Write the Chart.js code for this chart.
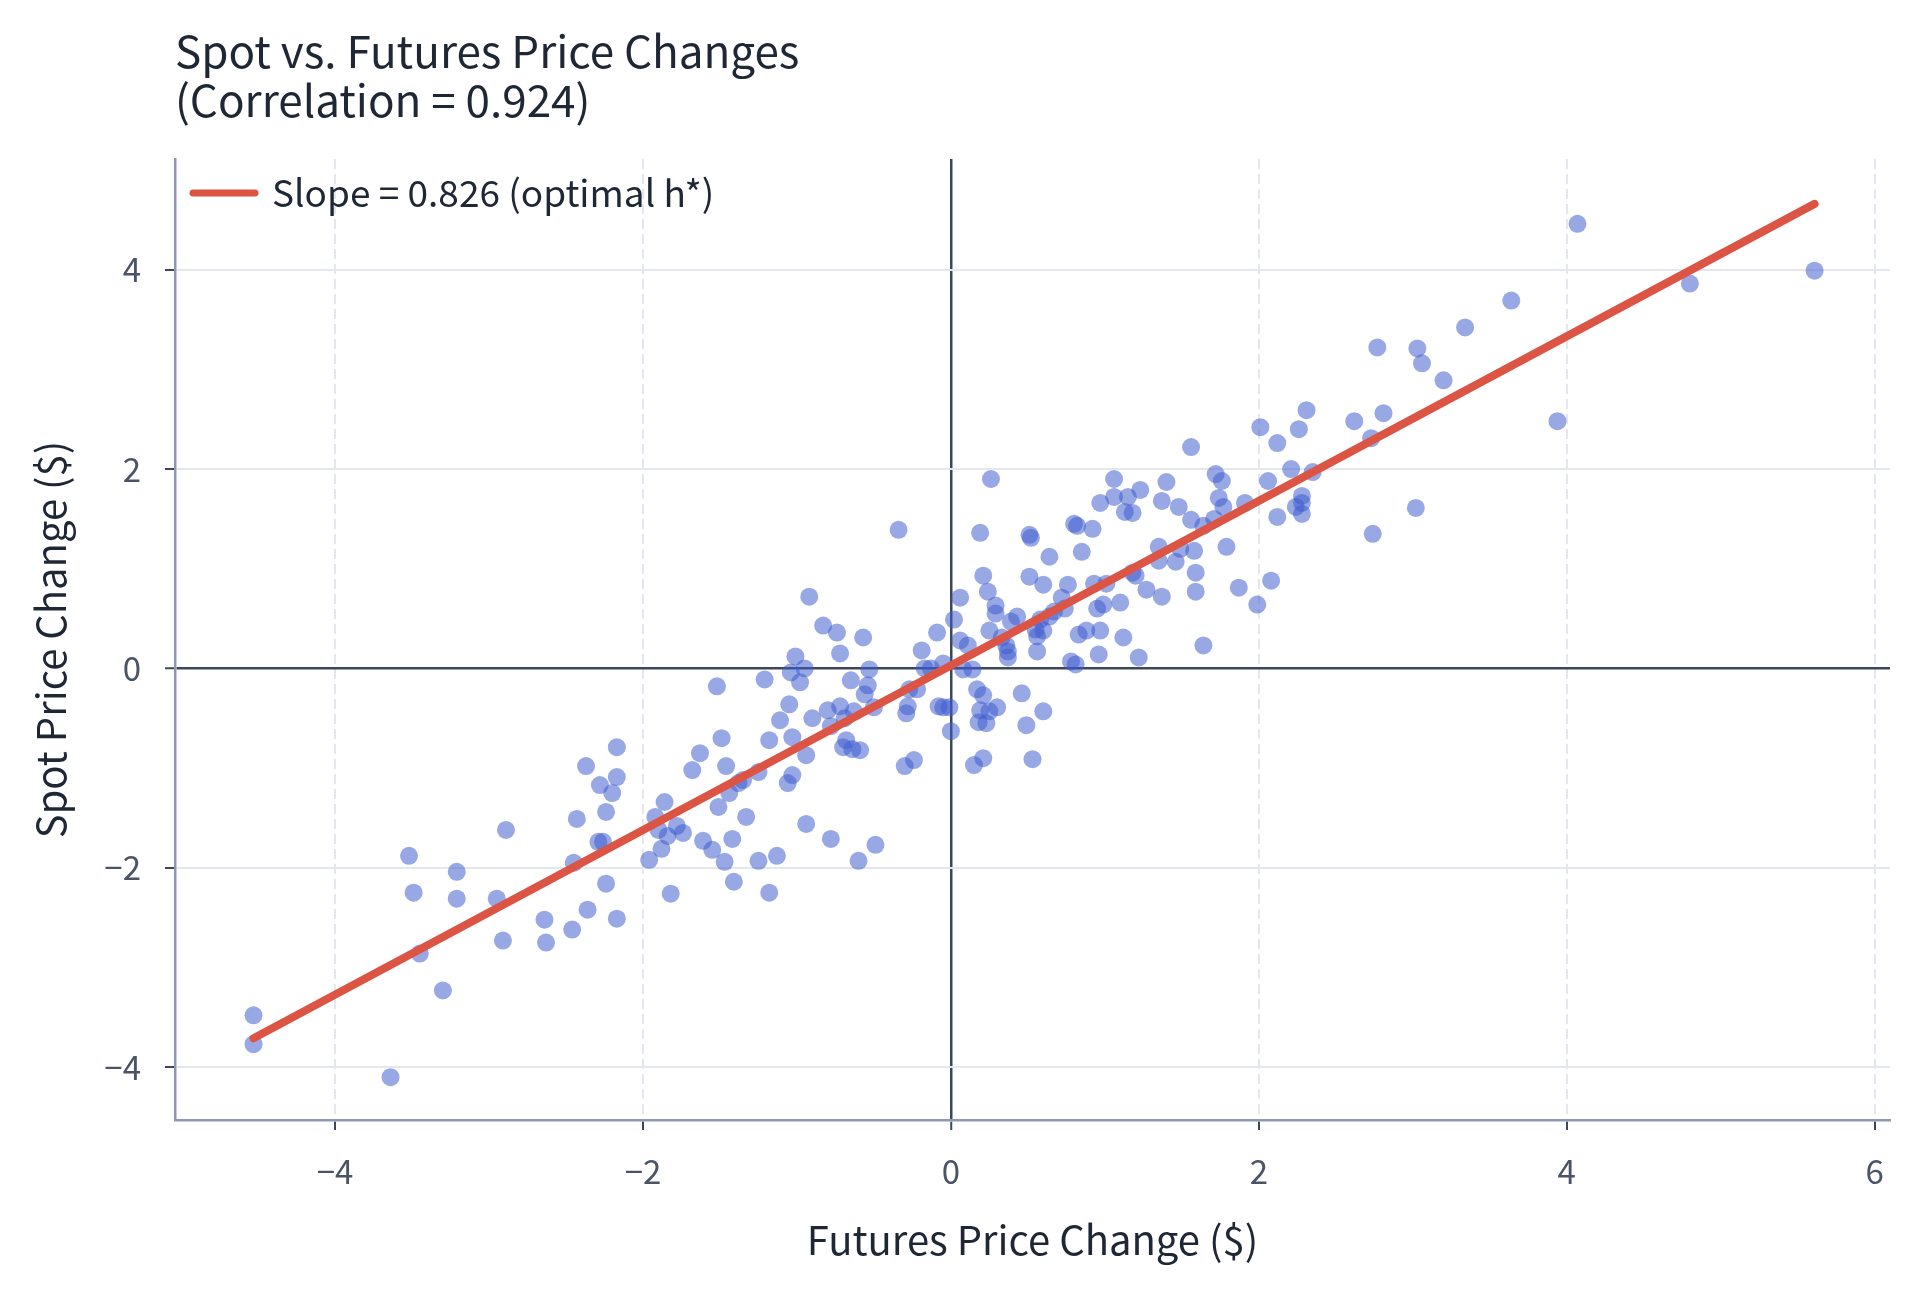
<!DOCTYPE html>
<html>
<head>
<meta charset="utf-8">
<script src="https://cdn.jsdelivr.net/npm/chart.js@4.4.1/dist/chart.umd.min.js"></script>
<style>
html,body{margin:0;padding:0;background:#fff;}
#wrap{width:1920px;height:1292px;}
</style>
</head>
<body>
<div id="wrap"><canvas id="c" width="1920" height="1292"></canvas></div>
<script>
const titleLines = ["Spot vs. Futures Price Changes", "(Correlation = 0.924)"];
const xAxisTitle = "Futures Price Change ($)";
const yAxisTitle = "Spot Price Change ($)";
const legendLabel = "Slope = 0.826 (optimal h*)";

const futuresChange = [
-4.53,-4.53,-3.64,-3.52,-3.49,-3.45,-3.30,-3.21,-3.21,-2.95,-2.91,-2.89,-2.64,-2.63,-2.46,-2.45,-2.43,-2.37,-2.36,-2.29,
-2.26,-2.28,-2.24,-2.24,-2.20,-2.17,-2.17,-2.17,-1.96,-1.92,-1.90,-1.88,-1.86,-1.84,-1.82,-1.78,-1.74,-1.68,-1.63,-1.61,
-1.55,-1.52,-1.51,-1.49,-1.47,-1.46,-1.44,-1.42,-1.41,-1.38,-1.35,-1.33,-1.25,-1.25,-1.21,-1.18,-1.18,-1.13,-1.11,-1.06,
-1.05,-1.04,-1.03,-1.03,-1.01,-0.98,-0.95,-0.94,-0.94,-0.92,-0.90,-0.83,-0.80,-0.78,-0.78,-0.74,-0.72,-0.72,-0.70,-0.69,
-0.68,-0.65,-0.64,-0.63,-0.60,-0.59,-0.57,-0.56,-0.54,-0.53,-0.50,-0.49,-0.34,-0.30,-0.29,-0.28,-0.27,-0.24,-0.22,-0.19,
-0.17,-0.13,-0.09,-0.08,-0.05,-0.05,-0.01,0.00,0.02,0.06,0.06,0.08,0.11,0.14,0.15,0.17,0.18,0.19,0.19,0.21,
0.21,0.21,0.23,0.24,0.25,0.25,0.26,0.29,0.29,0.30,0.33,0.36,0.37,0.37,0.39,0.43,0.46,0.49,0.51,0.51,
0.52,0.53,0.55,0.56,0.56,0.58,0.60,0.60,0.60,0.64,0.64,0.67,0.72,0.74,0.76,0.78,0.80,0.82,0.81,0.83,
0.85,0.88,0.92,0.93,0.95,0.96,0.97,0.97,0.99,1.01,1.06,1.06,1.10,1.12,1.13,1.15,1.18,1.18,1.20,1.22,
1.23,1.27,1.35,1.35,1.37,1.37,1.40,1.46,1.48,1.49,1.56,1.56,1.58,1.59,1.59,1.64,1.64,1.71,1.72,1.74,
1.76,1.77,1.79,1.87,1.91,1.99,2.01,2.06,2.08,2.12,2.12,2.21,2.24,2.26,2.28,2.28,2.28,2.31,2.35,2.62,
2.73,2.74,2.77,2.81,3.02,3.03,3.06,3.20,3.34,3.64,3.94,4.07,4.80,5.61
];
const spotChange = [
-3.48,-3.77,-4.10,-1.88,-2.25,-2.86,-3.23,-2.04,-2.31,-2.31,-2.73,-1.62,-2.52,-2.75,-2.62,-1.95,-1.51,-0.98,-2.42,-1.74,
-1.74,-1.17,-2.16,-1.44,-1.25,-0.79,-1.09,-2.51,-1.92,-1.49,-1.62,-1.81,-1.34,-1.68,-2.26,-1.58,-1.65,-1.02,-0.85,-1.73,
-1.82,-0.18,-1.39,-0.70,-1.94,-0.98,-1.25,-1.71,-2.14,-1.15,-1.12,-1.49,-1.04,-1.93,-0.11,-0.72,-2.25,-1.88,-0.52,-1.15,
-0.36,-0.04,-0.69,-1.07,0.12,-0.14,0.00,-1.56,-0.87,0.72,-0.50,0.43,-0.42,-0.58,-1.71,0.36,0.15,-0.38,-0.79,-0.50,
-0.72,-0.12,-0.81,-0.43,-1.93,-0.82,0.31,-0.26,-0.17,-0.01,-0.39,-1.77,1.39,-0.98,-0.45,-0.38,-0.21,-0.92,-0.21,0.18,
0.00,0.00,0.36,-0.38,-0.39,0.05,-0.39,-0.63,0.49,0.71,0.28,-0.01,0.23,-0.01,-0.97,-0.21,-0.54,1.36,-0.42,0.93,
-0.27,-0.90,-0.55,0.77,0.38,-0.43,1.90,0.55,0.63,-0.39,0.31,0.23,0.11,0.17,0.47,0.52,-0.25,-0.57,0.92,1.34,
1.31,-0.91,0.39,0.17,0.32,0.49,0.38,-0.43,0.84,0.52,1.12,0.57,0.71,0.60,0.84,0.07,1.45,1.43,0.04,0.34,
1.17,0.38,1.40,0.85,0.60,0.14,0.38,1.66,0.64,0.85,1.90,1.72,0.66,0.31,1.57,1.72,1.56,0.96,0.93,0.11,
1.79,0.79,1.22,1.08,0.72,1.68,1.87,1.07,1.62,1.20,2.22,1.49,1.18,0.77,0.96,0.23,1.43,1.50,1.95,1.71,
1.88,1.62,1.22,0.81,1.66,0.64,2.42,1.88,0.88,2.26,1.52,2.00,1.62,2.40,1.73,1.55,1.66,2.59,1.97,2.48,
2.31,1.35,3.22,2.56,1.61,3.21,3.06,2.89,3.42,3.69,2.48,4.46,3.86,3.99
];
const fitLineX = [-4.53, 5.61];
const fitLineY = [-3.71, 4.66];
const xTickValues = [-4, -2, 0, 2, 4, 6];
const yTickValues = [-4, -2, 0, 2, 4];
const xRange = [-5.04, 6.10];
const yRange = [-4.53, 5.11];

const FONT = "'Noto Sans CJK KR','Noto Sans',sans-serif";
const DARK = '#1f2735';
const TICKTXT = '#4a5466';
const ZERO = '#3c4859';
const GRID = '#e4e7ed';
const AXIS = '#8e99b1';
const RED = '#dc5444';

const minus = v => String(v).replace('-', '\u2212');

const titlePlugin = {
  id: 'topTitle',
  afterDraw(chart) {
    const ctx = chart.ctx;
    const a = chart.chartArea;
    ctx.save();
    ctx.fillStyle = DARK;
    ctx.font = "44px " + FONT;
    ctx.textBaseline = 'middle';
    ctx.textAlign = 'left';
    ctx.fillText(titleLines[0], a.left, 51);
    ctx.fillText(titleLines[1], a.left, 100);
    // legend (inside plot area, top-left)
    const ly = a.top + 34;
    ctx.strokeStyle = RED;
    ctx.lineWidth = 7;
    ctx.lineCap = 'round';
    ctx.beginPath();
    ctx.moveTo(a.left + 18, ly);
    ctx.lineTo(a.left + 80, ly);
    ctx.stroke();
    ctx.fillStyle = DARK;
    ctx.font = "37px " + FONT;
    ctx.fillText(legendLabel, a.left + 97, ly);
    ctx.restore();
  }
};

const scatterData = futuresChange.map((x, i) => ({x: x, y: spotChange[i]}));
const lineData = fitLineX.map((x, i) => ({x: x, y: fitLineY[i]}));

new Chart(document.getElementById('c'), {
  type: 'scatter',
  data: {
    datasets: [
      {
        type: 'line',
        label: legendLabel,
        data: lineData,
        borderColor: RED,
        backgroundColor: RED,
        borderWidth: 8,
        borderCapStyle: 'round',
        pointRadius: 0,
        pointHoverRadius: 0,
        fill: false,
        order: 0
      },
      {
        type: 'scatter',
        label: 'data',
        data: scatterData,
        backgroundColor: 'rgba(60,90,205,0.53)',
        borderWidth: 0,
        pointRadius: 9,
        pointHoverRadius: 9,
        order: 1
      }
    ]
  },
  options: {
    responsive: false,
    devicePixelRatio: 1,
    animation: false,
    layout: { padding: { top: 159, right: 30, bottom: 0, left: 0 } },
    plugins: {
      title: { display: false },
      tooltip: { enabled: false },
      legend: { display: false }
    },
    scales: {
      x: {
        type: 'linear',
        min: xRange[0],
        max: xRange[1],
        afterBuildTicks: s => { s.ticks = xTickValues.map(v => ({value: v})); },
        afterFit: s => { s.height = 172; },
        ticks: {
          font: { family: FONT, size: 33 },
          color: TICKTXT,
          padding: 22,
          maxRotation: 0,
          callback: v => minus(v)
        },
        grid: {
          color: c => (c.tick && c.tick.value === 0) ? ZERO : GRID,
          lineWidth: c => (c.tick && c.tick.value === 0) ? 2.5 : 2,
          drawTicks: true,
          tickLength: 10,
          tickWidth: 2,
          tickColor: ZERO
        },
        border: {
          display: true,
          color: AXIS,
          width: 2.5,
          dash: c => (c.tick && c.tick.value !== 0) ? [10, 5] : []
        },
        title: {
          display: true,
          text: xAxisTitle,
          font: { family: FONT, size: 40 },
          color: DARK,
          padding: { top: 0, bottom: 28 }
        }
      },
      y: {
        type: 'linear',
        min: yRange[0],
        max: yRange[1],
        afterBuildTicks: s => { s.ticks = yTickValues.map(v => ({value: v})); },
        afterFit: s => { s.width = 175; },
        ticks: {
          font: { family: FONT, size: 33 },
          color: TICKTXT,
          padding: 24,
          callback: v => minus(v)
        },
        grid: {
          color: c => (c.tick && c.tick.value === 0) ? ZERO : GRID,
          lineWidth: c => (c.tick && c.tick.value === 0) ? 2.5 : 2,
          drawTicks: true,
          tickLength: 10,
          tickWidth: 2,
          tickColor: ZERO
        },
        border: {
          display: true,
          color: AXIS,
          width: 2.5
        },
        title: {
          display: true,
          text: yAxisTitle,
          font: { family: FONT, size: 40 },
          color: DARK,
          padding: { top: 27, bottom: 0 }
        }
      }
    }
  },
  plugins: [titlePlugin]
});
</script>
</body>
</html>
